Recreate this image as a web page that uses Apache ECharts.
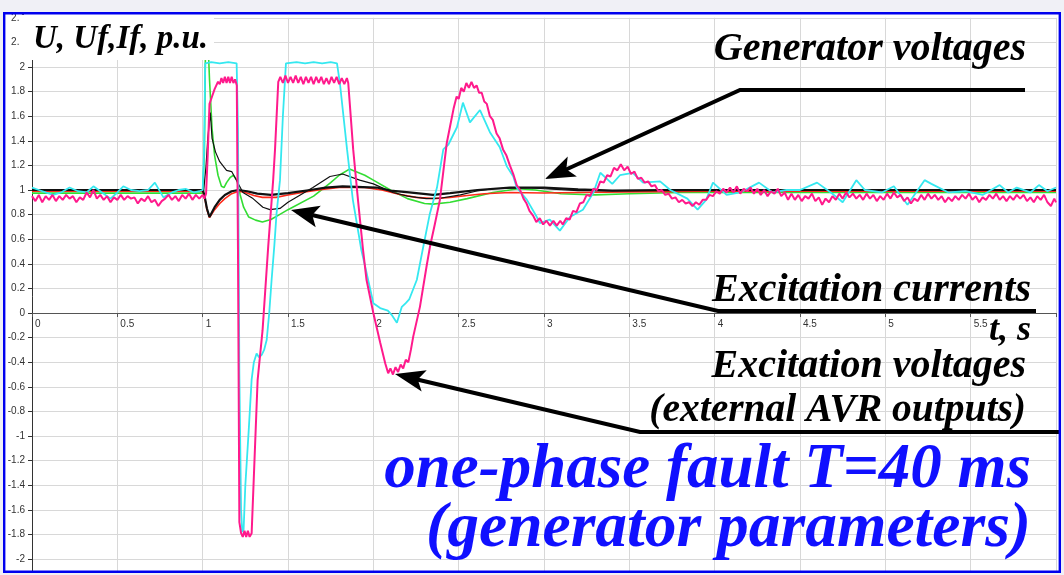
<!DOCTYPE html>
<html>
<head>
<meta charset="utf-8">
<script src="https://cdn.jsdelivr.net/npm/echarts/dist/echarts.min.js"></script>
<style>
  html, body { margin: 0; padding: 0; background: #f0f0f6; }
  #frame { position: absolute; left: 4px; top: 13px; width: 1056px; height: 559px; background: #ffffff; }
  #chart { position: absolute; left: 0; top: 0; width: 1064px; height: 575px; }
</style>
</head>
<body>
<div id="frame"></div>
<div id="chart"></div>
<script>
// ---------------- data (t in s, value in p.u.) ----------------
const xRange = [0, 6];
const yRange = [-2.2, 2.4];

// Excitation voltage #1 (magenta)
const excVoltage1 = [
[0,0.95],[0.02,0.91],[0.04,0.96],[0.06,0.9],[0.08,0.95],[0.1,0.92],[0.12,0.96],[0.14,0.91],[0.16,0.95],[0.18,0.92],[0.2,0.96],[0.22,0.93],[0.24,0.95],[0.26,0.9],[0.28,0.94],[0.3,0.92],[0.32,0.98],[0.34,0.94],[0.36,1.0],[0.38,0.93],[0.4,0.96],[0.42,0.92],[0.44,0.95],[0.46,0.9],[0.48,0.94],[0.5,0.92],[0.52,0.96],[0.54,0.92],[0.56,0.95],[0.58,0.93],[0.6,0.94],[0.62,0.89],[0.64,0.93],[0.66,0.91],[0.68,0.95],[0.7,0.9],[0.72,0.92],[0.74,0.87],[0.76,0.91],[0.78,0.93],[0.8,0.96],[0.82,0.92],[0.84,0.95],[0.86,0.91],[0.88,0.96],[0.9,0.93],[0.92,0.97],[0.94,0.92],[0.96,0.96],[0.98,0.93],[1.0,0.96],
[1.01,0.93],[1.02,0.97],[1.03,1.3],[1.04,1.7],[1.055,1.76],[1.07,1.82],[1.08,1.85],[1.09,1.88],[1.1,1.86],[1.11,1.91],[1.12,1.87],[1.13,1.92],[1.14,1.87],[1.15,1.92],[1.16,1.87],[1.17,1.92],[1.18,1.87],[1.19,1.9],[1.2,1.85],[1.207,0.5],[1.215,-1.7],[1.225,-1.79],[1.235,-1.82],[1.245,-1.77],[1.255,-1.82],[1.265,-1.77],[1.275,-1.82],[1.287,-1.79],[1.322,-0.545],[1.351,-0.14],[1.384,0.54],[1.413,1.08],[1.424,1.33],[1.443,1.88],
[1.455,1.92],[1.47,1.87],[1.485,1.93],[1.5,1.87],[1.515,1.92],[1.53,1.87],[1.545,1.93],[1.56,1.87],[1.575,1.92],[1.59,1.86],[1.605,1.92],[1.62,1.87],[1.635,1.92],[1.65,1.86],[1.665,1.92],[1.68,1.87],[1.695,1.92],[1.71,1.86],[1.725,1.91],[1.74,1.86],[1.755,1.92],[1.77,1.87],[1.785,1.92],[1.8,1.86],[1.815,1.91],[1.83,1.86],[1.845,1.91],
[1.853,1.87],[1.882,1.33],[1.91,0.92],[1.94,0.51],[1.96,0.27],[2.0,0.0],[2.04,-0.24],[2.07,-0.41],[2.087,-0.49],[2.1,-0.45],[2.115,-0.5],[2.13,-0.44],[2.145,-0.48],[2.16,-0.42],[2.175,-0.45],[2.19,-0.38],[2.205,-0.4],[2.22,-0.3],[2.234,-0.19],[2.273,0.05],[2.312,0.38],[2.332,0.54],
[2.36,0.72],[2.39,0.92],[2.41,1.15],[2.43,1.38],[2.45,1.52],[2.47,1.66],[2.488,1.76],[2.5,1.74],[2.515,1.83],[2.53,1.8],[2.545,1.87],[2.56,1.83],[2.575,1.88],[2.59,1.83],[2.605,1.85],[2.62,1.79],[2.635,1.79],[2.65,1.72],[2.665,1.7],[2.683,1.6],[2.7,1.57],[2.722,1.46],[2.74,1.42],[2.76,1.33],[2.78,1.28],[2.8,1.2],[2.82,1.13],[2.84,1.04],[2.86,1.0],[2.88,0.93],[2.898,0.89],
[2.915,0.83],[2.937,0.79],[2.955,0.74],[2.975,0.77],[2.995,0.72],[3.015,0.75],[3.035,0.71],[3.055,0.75],[3.075,0.71],[3.095,0.75],[3.11,0.72],[3.13,0.77],[3.15,0.76],[3.17,0.83],[3.19,0.82],[3.21,0.89],[3.23,0.9],[3.25,0.96],[3.27,0.95],[3.29,1.01],[3.31,1.0],[3.33,1.07],[3.35,1.06],[3.37,1.12],[3.39,1.11],[3.41,1.18],[3.43,1.16],[3.45,1.21],[3.47,1.16],[3.49,1.19],[3.51,1.13],[3.53,1.15],[3.55,1.09],[3.57,1.1],
[3.59,1.06],[3.61,1.07],[3.63,1.03],[3.65,1.04],[3.67,0.99],[3.69,1.0],[3.71,0.96],[3.73,0.97],[3.75,0.93],[3.77,0.94],[3.79,0.9],[3.81,0.92],[3.83,0.89],[3.85,0.9],[3.87,0.87],[3.89,0.9],[3.91,0.88],[3.93,0.92],[3.95,0.92],[3.97,0.96],[3.99,0.95],[4.01,0.99],[4.03,0.97],[4.05,1.01],[4.07,0.98],[4.09,1.02],[4.11,0.98],[4.13,1.03],[4.15,0.97],[4.17,1.01],
[4.19,0.99],[4.21,1.02],[4.23,0.97],[4.25,1.01],[4.27,0.96],[4.29,1.0],[4.31,0.95],[4.33,0.99],[4.35,0.97],[4.37,1.01],[4.39,0.95],[4.41,0.98],[4.43,0.92],[4.45,0.97],[4.47,0.92],[4.49,0.96],[4.51,0.91],[4.53,0.95],[4.55,0.93],[4.57,0.97],[4.59,0.91],[4.61,0.94],[4.63,0.88],[4.65,0.93],[4.67,0.9],[4.69,0.95],[4.71,0.92],[4.73,0.97],[4.75,0.93],[4.77,0.98],[4.79,0.94],[4.81,0.97],[4.83,0.93],[4.85,0.96],[4.87,0.92],[4.89,0.97],[4.91,0.93],[4.93,0.96],[4.95,0.91],[4.97,0.95],[4.99,0.92],[5.01,0.97],[5.03,0.93],[5.05,0.98],[5.07,0.94],[5.09,0.96],[5.11,0.91],[5.13,0.94],[5.15,0.89],[5.17,0.93],[5.19,0.91],[5.21,0.96],[5.23,0.92],[5.25,0.97],[5.27,0.93],[5.29,0.96],[5.31,0.92],[5.33,0.95],[5.35,0.9],[5.37,0.94],[5.39,0.91],[5.41,0.95],[5.43,0.92],[5.45,0.96],[5.47,0.93],[5.49,0.97],[5.51,0.92],[5.53,0.95],[5.55,0.9],[5.57,0.94],[5.59,0.92],[5.61,0.96],[5.63,0.93],[5.65,0.97],[5.67,0.92],[5.69,0.95],[5.71,0.91],[5.73,0.95],[5.75,0.92],[5.77,0.96],[5.79,0.93],[5.81,0.96],[5.83,0.91],[5.85,0.94],[5.87,0.9],[5.89,0.95],[5.91,0.92],[5.93,0.96],[5.95,0.9],[5.97,0.87],[5.99,0.93],[6.0,0.9]
];

// Excitation voltage #2 (cyan)
const excVoltage2 = [
[0,1.02],[0.04,1.0],[0.08,0.98],[0.125,0.96],[0.17,0.98],[0.22,1.02],[0.27,0.99],[0.32,0.98],[0.36,1.03],[0.41,0.98],[0.46,0.93],[0.5,0.98],[0.535,1.03],[0.58,1.0],[0.63,0.99],[0.68,1.0],[0.72,1.06],[0.77,0.94],[0.82,0.98],[0.86,1.0],[0.9,1.01],[0.95,0.98],[0.98,0.99],[1.0,1.0],
[1.008,1.3],[1.015,2.03],[1.05,2.04],[1.1,2.03],[1.15,2.04],[1.199,2.03],[1.207,1.5],[1.215,-0.5],[1.225,-1.6],[1.232,-1.78],[1.24,-1.76],[1.25,-1.4],[1.27,-0.95],[1.287,-0.54],[1.3,-0.4],[1.316,-0.33],[1.33,-0.36],[1.346,-0.34],[1.36,-0.3],[1.375,-0.22],[1.39,0.0],[1.404,0.27],[1.42,0.55],[1.433,0.81],[1.453,1.08],[1.47,1.6],[1.488,2.03],[1.55,2.04],[1.6,2.03],[1.65,2.04],[1.7,2.03],[1.75,2.04],[1.787,2.03],
[1.804,1.87],[1.846,1.33],[1.88,0.92],[1.93,0.51],[1.96,0.33],[2.0,0.08],[2.04,0.04],[2.085,0.02],[2.11,-0.02],[2.138,-0.08],[2.167,0.05],[2.19,0.08],[2.21,0.11],[2.255,0.27],[2.29,0.52],[2.33,0.8],[2.373,1.02],[2.41,1.33],[2.44,1.37],[2.49,1.51],[2.525,1.71],[2.566,1.55],[2.625,1.65],[2.683,1.47],[2.74,1.35],[2.783,1.19],[2.82,1.11],[2.84,1.02],[2.9,0.92],[2.958,0.78],[2.976,0.73],[3.034,0.76],[3.093,0.67],[3.152,0.78],[3.228,0.84],[3.29,0.98],[3.33,1.14],[3.4,1.05],[3.445,1.12],[3.52,1.14],[3.58,1.06],[3.68,1.07],[3.74,1.0],[3.84,0.93],[3.9,0.84],[3.95,0.92],[3.99,1.06],[4.07,0.96],[4.15,0.98],[4.26,1.06],[4.34,0.98],[4.42,1.0],[4.5,1.0],[4.6,1.06],[4.69,0.97],[4.75,0.9],[4.83,1.08],[4.88,1.0],[4.98,0.98],[5.05,1.03],[5.13,0.88],[5.23,1.08],[5.27,1.05],[5.37,0.98],[5.47,0.99],[5.57,0.96],[5.67,1.04],[5.72,0.98],[5.77,1.02],[5.85,0.98],[5.9,1.04],[5.95,0.99],[6.0,1.02]
];

// Excitation current #1 (green)
const excCurrent1 = [
[0,0.975],[1.0,0.975],[1.01,1.3],[1.02,2.6],[1.03,2.6],[1.04,1.9],[1.055,1.5],[1.07,1.28],[1.09,1.12],[1.11,1.03],[1.125,1.02],[1.14,1.06],[1.16,1.1],[1.18,1.12],[1.2,1.08],[1.22,0.96],[1.24,0.86],[1.27,0.78],[1.31,0.755],[1.35,0.74],[1.4,0.76],[1.45,0.8],[1.5,0.84],[1.65,0.95],[1.75,1.06],[1.8,1.12],[1.86,1.17],[1.95,1.12],[2.0,1.08],[2.1,1.0],[2.2,0.93],[2.3,0.89],[2.35,0.885],[2.45,0.9],[2.55,0.93],[2.7,0.98],[2.85,1.01],[2.95,1.0],[3.1,0.97],[3.3,0.96],[3.5,0.97],[3.8,0.98],[6.0,0.98]
];

// Excitation current #2 (thin black)
const excCurrent2 = [
[0,1.0],[1.0,1.0],[1.005,0.98],[1.02,1.2],[1.03,1.42],[1.045,1.63],[1.055,1.42],[1.075,1.31],[1.1,1.23],[1.14,1.16],[1.17,1.15],[1.19,1.1],[1.236,0.98],[1.295,0.93],[1.353,0.86],[1.394,0.84],[1.453,0.85],[1.5,0.9],[1.646,1.02],[1.746,1.11],[1.82,1.13],[1.92,1.08],[2.0,1.05],[2.115,0.98],[2.2,0.95],[2.31,0.93],[2.4,0.935],[2.51,0.96],[2.6,0.99],[2.7,1.01],[2.9,1.02],[3.0,1.01],[3.2,0.995],[3.5,0.995],[6.0,1.0]
];

// Generator voltage #1 (red)
const genVoltage1 = [
[0,0.99],[1.0,0.99],[1.01,0.95],[1.025,0.84],[1.04,0.775],[1.05,0.78],[1.07,0.84],[1.1,0.89],[1.13,0.93],[1.17,0.97],[1.21,0.99],[1.25,0.98],[1.3,0.955],[1.35,0.94],[1.43,0.94],[1.5,0.96],[1.6,0.985],[1.7,1.005],[1.8,1.02],[1.95,1.02],[2.05,1.0],[2.15,0.965],[2.25,0.94],[2.35,0.93],[2.45,0.94],[2.55,0.955],[2.65,0.97],[2.8,0.98],[3.0,0.975],[3.2,0.98],[3.5,0.985],[4.0,0.99],[6.0,0.99]
];

// Generator voltage #2 (thick black)
const genVoltage2 = [
[0,1.0],[1.0,1.0],[1.01,0.96],[1.025,0.85],[1.04,0.78],[1.05,0.78],[1.07,0.86],[1.1,0.92],[1.13,0.96],[1.17,0.99],[1.21,1.0],[1.26,0.99],[1.32,0.97],[1.4,0.96],[1.5,0.975],[1.63,1.0],[1.72,1.02],[1.82,1.03],[2.02,1.02],[2.1,0.995],[2.21,0.98],[2.35,0.96],[2.45,0.975],[2.61,1.0],[2.8,1.02],[3.0,1.02],[3.2,1.005],[3.4,0.995],[3.7,1.0],[6.0,1.0]
];

// ---------------- chart ----------------
const chart = echarts.init(document.getElementById('chart'), null, { renderer: 'canvas' });

const gridTop = 17.8, gridHeight = 565.8;
// move the x axis (line, ticks, labels) up to y = 0
const xAxisOffset = -(0 - yRange[0]) / (yRange[1] - yRange[0]) * gridHeight;

function arrowHead(tip, from, len, half) {
  const dx = tip[0] - from[0], dy = tip[1] - from[1];
  const L = Math.sqrt(dx * dx + dy * dy);
  const ux = dx / L, uy = dy / L, px = -uy, py = ux;
  const bx = tip[0] - ux * len, by = tip[1] - uy * len;
  const nx = tip[0] - ux * len * 0.78, ny = tip[1] - uy * len * 0.78;
  return [tip, [bx + px * half, by + py * half], [nx, ny], [bx - px * half, by - py * half]];
}
function font(s) { return 'bold italic ' + s + 'px "Liberation Serif", "DejaVu Serif", serif'; }

const bg = '#f0f0f6';
const ann = [
  { type: 'rect', z: 100, shape: { x: 19, y: 15, width: 195, height: 45 }, style: { fill: '#ffffff' } },
  { type: 'text', z: 110, style: { text: 'U, Uf,If, p.u.', x: 33, y: 39, font: font(33), fill: '#000', textAlign: 'left', textVerticalAlign: 'middle' } },
  { type: 'text', z: 110, style: { text: 'Generator voltages', x: 1026, y: 50, font: font(40), fill: '#000', textAlign: 'right', textVerticalAlign: 'middle' } },
  { type: 'polyline', z: 110, shape: { points: [[1025, 90], [740, 90], [565, 170]] }, style: { stroke: '#000', lineWidth: 4, fill: null } },
  { type: 'polygon', z: 110, shape: { points: arrowHead([545, 179], [740, 90], 30, 11) }, style: { fill: '#000' } },
  { type: 'text', z: 110, style: { text: 'Excitation currents', x: 1031, y: 291, font: font(40), fill: '#000', textAlign: 'right', textVerticalAlign: 'middle' } },
  { type: 'polyline', z: 110, shape: { points: [[1036, 311], [718, 311], [312, 215]] }, style: { stroke: '#000', lineWidth: 4, fill: null } },
  { type: 'polygon', z: 110, shape: { points: arrowHead([291, 210], [718, 311], 28, 11) }, style: { fill: '#000' } },
  { type: 'text', z: 110, style: { text: 't, s', x: 1031, y: 331, font: font(36), fill: '#000', textAlign: 'right', textVerticalAlign: 'middle' } },
  { type: 'text', z: 110, style: { text: 'Excitation voltages', x: 1026, y: 367, font: font(40), fill: '#000', textAlign: 'right', textVerticalAlign: 'middle' } },
  { type: 'text', z: 110, style: { text: '(external AVR outputs)', x: 1026, y: 411, font: font(39.5), fill: '#000', textAlign: 'right', textVerticalAlign: 'middle' } },
  { type: 'polyline', z: 110, shape: { points: [[1062, 432], [640, 432], [415, 379]] }, style: { stroke: '#000', lineWidth: 4, fill: null } },
  { type: 'polygon', z: 110, shape: { points: arrowHead([395, 374], [640, 432], 30, 11) }, style: { fill: '#000' } },
  { type: 'text', z: 110, style: { text: 'one-phase fault T=40 ms', x: 1031, y: 471, font: font(63), fill: '#1010ff', textAlign: 'right', textVerticalAlign: 'middle' } },
  { type: 'text', z: 110, style: { text: '(generator parameters)', x: 1031, y: 530, font: font(63.5), fill: '#1010ff', textAlign: 'right', textVerticalAlign: 'middle' } },
  { type: 'rect', z: 150, shape: { x: 0, y: 573, width: 1064, height: 4 }, style: { fill: bg } },
  { type: 'rect', z: 150, shape: { x: 1061, y: 0, width: 4, height: 575 }, style: { fill: bg } },
  { type: 'rect', z: 150, shape: { x: 0, y: 0, width: 1064, height: 12 }, style: { fill: bg } },
  { type: 'rect', z: 150, shape: { x: 0, y: 0, width: 3, height: 575 }, style: { fill: bg } },
  { type: 'rect', z: 160, shape: { x: 4.2, y: 13.2, width: 1055.6, height: 558.6 }, style: { fill: null, stroke: '#0000ee', lineWidth: 2.4 } }
];

function lineSeries(name, data, color, width, z) {
  return {
    name: name, type: 'line', data: data, showSymbol: false, symbol: 'none',
    lineStyle: { color: color, width: width }, itemStyle: { color: color },
    z: z, animation: false, clip: true
  };
}

const option = {
  animation: false,
  backgroundColor: 'transparent',
  grid: { left: 32, top: gridTop, width: 1024, height: gridHeight, containLabel: false, outerBoundsMode: 'none' },
  xAxis: {
    type: 'value', min: xRange[0], max: xRange[1], interval: 0.5,
    position: 'bottom', offset: xAxisOffset,
    axisLine: { onZero: false, lineStyle: { color: '#555', width: 1 } },
    axisTick: { show: true, length: 4, lineStyle: { color: '#555' } },
    axisLabel: { color: '#333', fontSize: 10, fontFamily: '"Liberation Sans", Arial, sans-serif', align: 'left', margin: 6, padding: [0, 0, 0, 3] },
    splitLine: { show: true, lineStyle: { color: '#d8d8d8', width: 1 } }
  },
  yAxis: {
    type: 'value', min: yRange[0], max: yRange[1], interval: 0.2,
    axisLine: { show: true, onZero: false, lineStyle: { color: '#333', width: 1 } },
    axisTick: { show: true, length: 4, lineStyle: { color: '#333' } },
    axisLabel: { color: '#333', fontSize: 10, fontFamily: '"Liberation Sans", Arial, sans-serif', margin: 7 },
    splitLine: { show: true, lineStyle: { color: '#d8d8d8', width: 1 } }
  },
  series: [
    lineSeries('Excitation current 1', excCurrent1, '#33dd33', 1.6, 2),
    lineSeries('Generator voltage 1', genVoltage1, '#ff2a1a', 1.6, 3),
    lineSeries('Excitation current 2', excCurrent2, '#111111', 1.2, 4),
    lineSeries('Generator voltage 2', genVoltage2, '#111111', 2.2, 5),
    lineSeries('Excitation voltage 2', excVoltage2, '#35e8f0', 1.8, 6),
    lineSeries('Excitation voltage 1', excVoltage1, '#ff1a8c', 2.0, 7)
  ],
  graphic: { elements: ann }
};
chart.setOption(option);
</script>
</body>
</html>
